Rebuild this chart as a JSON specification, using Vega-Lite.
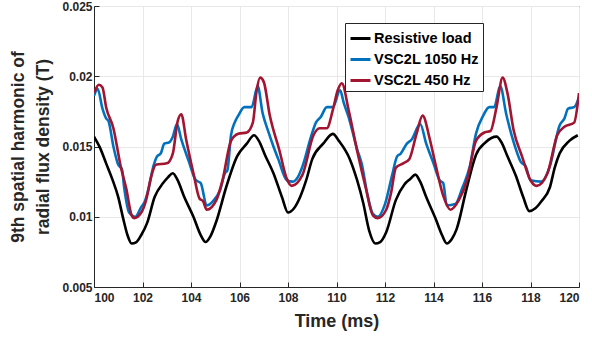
{
  "$schema": "https://vega.github.io/schema/vega-lite/v6.json",
  "width": 485,
  "height": 281,
  "autosize": {"type": "none"},
  "padding": {"left": 94, "top": 6, "right": 13, "bottom": 51},
  "background": "white",
  "config": {
    "font": "Liberation Sans",
    "view": {"stroke": "#262626", "strokeWidth": 1},
    "axis": {
      "domainColor": "#262626",
      "tickColor": "#262626",
      "gridColor": "#e8e8e8",
      "labelFont": "Liberation Sans",
      "labelFontWeight": "bold",
      "labelFontSize": 12,
      "labelColor": "#262626",
      "titleFont": "Liberation Sans",
      "titleFontWeight": "bold",
      "titleColor": "#262626",
      "tickSize": -5
    }
  },
  "data": {
    "values": [
      {"t": 100.0, "s": "Resistive load", "v": 0.0157},
      {"t": 100.25, "s": "Resistive load", "v": 0.0149},
      {"t": 100.5, "s": "Resistive load", "v": 0.0138},
      {"t": 100.75, "s": "Resistive load", "v": 0.0127},
      {"t": 101.0, "s": "Resistive load", "v": 0.0114},
      {"t": 101.2, "s": "Resistive load", "v": 0.0099},
      {"t": 101.38, "s": "Resistive load", "v": 0.0087},
      {"t": 101.55, "s": "Resistive load", "v": 0.0081},
      {"t": 101.75, "s": "Resistive load", "v": 0.0082},
      {"t": 101.95, "s": "Resistive load", "v": 0.0087},
      {"t": 102.2, "s": "Resistive load", "v": 0.0096},
      {"t": 102.5, "s": "Resistive load", "v": 0.0114},
      {"t": 102.85, "s": "Resistive load", "v": 0.0124},
      {"t": 103.05, "s": "Resistive load", "v": 0.0128},
      {"t": 103.25, "s": "Resistive load", "v": 0.0131},
      {"t": 103.45, "s": "Resistive load", "v": 0.0126},
      {"t": 103.7, "s": "Resistive load", "v": 0.0115},
      {"t": 104.1, "s": "Resistive load", "v": 0.0100},
      {"t": 104.4, "s": "Resistive load", "v": 0.0087},
      {"t": 104.6, "s": "Resistive load", "v": 0.0082},
      {"t": 104.8, "s": "Resistive load", "v": 0.0086},
      {"t": 105.05, "s": "Resistive load", "v": 0.0097},
      {"t": 105.45, "s": "Resistive load", "v": 0.0121},
      {"t": 105.9, "s": "Resistive load", "v": 0.0143},
      {"t": 106.3, "s": "Resistive load", "v": 0.0152},
      {"t": 106.6, "s": "Resistive load", "v": 0.0158},
      {"t": 106.8, "s": "Resistive load", "v": 0.0154},
      {"t": 107.05, "s": "Resistive load", "v": 0.0144},
      {"t": 107.4, "s": "Resistive load", "v": 0.0131},
      {"t": 107.75, "s": "Resistive load", "v": 0.0114},
      {"t": 108.0, "s": "Resistive load", "v": 0.0103},
      {"t": 108.25, "s": "Resistive load", "v": 0.0106},
      {"t": 108.5, "s": "Resistive load", "v": 0.0114},
      {"t": 108.75, "s": "Resistive load", "v": 0.0126},
      {"t": 109.0, "s": "Resistive load", "v": 0.0141},
      {"t": 109.45, "s": "Resistive load", "v": 0.0152},
      {"t": 109.85, "s": "Resistive load", "v": 0.0159},
      {"t": 110.1, "s": "Resistive load", "v": 0.0154},
      {"t": 110.55, "s": "Resistive load", "v": 0.0141},
      {"t": 110.85, "s": "Resistive load", "v": 0.0126},
      {"t": 111.1, "s": "Resistive load", "v": 0.0110},
      {"t": 111.35, "s": "Resistive load", "v": 0.0090},
      {"t": 111.6, "s": "Resistive load", "v": 0.0081},
      {"t": 111.8, "s": "Resistive load", "v": 0.0082},
      {"t": 112.05, "s": "Resistive load", "v": 0.0089},
      {"t": 112.45, "s": "Resistive load", "v": 0.0112},
      {"t": 112.8, "s": "Resistive load", "v": 0.0123},
      {"t": 113.05, "s": "Resistive load", "v": 0.0127},
      {"t": 113.25, "s": "Resistive load", "v": 0.0130},
      {"t": 113.45, "s": "Resistive load", "v": 0.0125},
      {"t": 113.7, "s": "Resistive load", "v": 0.0114},
      {"t": 114.1, "s": "Resistive load", "v": 0.0098},
      {"t": 114.35, "s": "Resistive load", "v": 0.0087},
      {"t": 114.55, "s": "Resistive load", "v": 0.0081},
      {"t": 114.75, "s": "Resistive load", "v": 0.0084},
      {"t": 114.95, "s": "Resistive load", "v": 0.0091},
      {"t": 115.35, "s": "Resistive load", "v": 0.0119},
      {"t": 115.75, "s": "Resistive load", "v": 0.0144},
      {"t": 116.15, "s": "Resistive load", "v": 0.0153},
      {"t": 116.6, "s": "Resistive load", "v": 0.0157},
      {"t": 116.8, "s": "Resistive load", "v": 0.0153},
      {"t": 117.05, "s": "Resistive load", "v": 0.0143},
      {"t": 117.4, "s": "Resistive load", "v": 0.0129},
      {"t": 117.7, "s": "Resistive load", "v": 0.0114},
      {"t": 117.95, "s": "Resistive load", "v": 0.0104},
      {"t": 118.2, "s": "Resistive load", "v": 0.0106},
      {"t": 118.45, "s": "Resistive load", "v": 0.0111},
      {"t": 118.8, "s": "Resistive load", "v": 0.0121},
      {"t": 119.0, "s": "Resistive load", "v": 0.0135},
      {"t": 119.2, "s": "Resistive load", "v": 0.0145},
      {"t": 119.6, "s": "Resistive load", "v": 0.0154},
      {"t": 119.95, "s": "Resistive load", "v": 0.0158},

      {"t": 100.0, "s": "VSC2L 1050 Hz", "v": 0.0186},
      {"t": 100.15, "s": "VSC2L 1050 Hz", "v": 0.0191},
      {"t": 100.35, "s": "VSC2L 1050 Hz", "v": 0.0177},
      {"t": 100.5, "s": "VSC2L 1050 Hz", "v": 0.0170},
      {"t": 100.6, "s": "VSC2L 1050 Hz", "v": 0.0168},
      {"t": 100.8, "s": "VSC2L 1050 Hz", "v": 0.0150},
      {"t": 101.0, "s": "VSC2L 1050 Hz", "v": 0.0137},
      {"t": 101.15, "s": "VSC2L 1050 Hz", "v": 0.0134},
      {"t": 101.25, "s": "VSC2L 1050 Hz", "v": 0.0120},
      {"t": 101.45, "s": "VSC2L 1050 Hz", "v": 0.0103},
      {"t": 101.7, "s": "VSC2L 1050 Hz", "v": 0.0100},
      {"t": 101.95, "s": "VSC2L 1050 Hz", "v": 0.0107},
      {"t": 102.1, "s": "VSC2L 1050 Hz", "v": 0.0111},
      {"t": 102.25, "s": "VSC2L 1050 Hz", "v": 0.0120},
      {"t": 102.45, "s": "VSC2L 1050 Hz", "v": 0.0136},
      {"t": 102.6, "s": "VSC2L 1050 Hz", "v": 0.0143},
      {"t": 102.75, "s": "VSC2L 1050 Hz", "v": 0.0145},
      {"t": 102.9, "s": "VSC2L 1050 Hz", "v": 0.0152},
      {"t": 103.1, "s": "VSC2L 1050 Hz", "v": 0.0153},
      {"t": 103.25, "s": "VSC2L 1050 Hz", "v": 0.0157},
      {"t": 103.42, "s": "VSC2L 1050 Hz", "v": 0.0166},
      {"t": 103.6, "s": "VSC2L 1050 Hz", "v": 0.0155},
      {"t": 103.9, "s": "VSC2L 1050 Hz", "v": 0.0140},
      {"t": 104.2, "s": "VSC2L 1050 Hz", "v": 0.0126},
      {"t": 104.4, "s": "VSC2L 1050 Hz", "v": 0.0124},
      {"t": 104.65, "s": "VSC2L 1050 Hz", "v": 0.0108},
      {"t": 104.9, "s": "VSC2L 1050 Hz", "v": 0.0111},
      {"t": 105.2, "s": "VSC2L 1050 Hz", "v": 0.0119},
      {"t": 105.4, "s": "VSC2L 1050 Hz", "v": 0.0131},
      {"t": 105.5, "s": "VSC2L 1050 Hz", "v": 0.0133},
      {"t": 105.65, "s": "VSC2L 1050 Hz", "v": 0.0158},
      {"t": 105.8, "s": "VSC2L 1050 Hz", "v": 0.0167},
      {"t": 105.95, "s": "VSC2L 1050 Hz", "v": 0.0172},
      {"t": 106.2, "s": "VSC2L 1050 Hz", "v": 0.0178},
      {"t": 106.5, "s": "VSC2L 1050 Hz", "v": 0.0178},
      {"t": 106.75, "s": "VSC2L 1050 Hz", "v": 0.0193},
      {"t": 106.95, "s": "VSC2L 1050 Hz", "v": 0.0174},
      {"t": 107.2, "s": "VSC2L 1050 Hz", "v": 0.0160},
      {"t": 107.4, "s": "VSC2L 1050 Hz", "v": 0.0150},
      {"t": 107.6, "s": "VSC2L 1050 Hz", "v": 0.0141},
      {"t": 107.95, "s": "VSC2L 1050 Hz", "v": 0.0126},
      {"t": 108.2, "s": "VSC2L 1050 Hz", "v": 0.0125},
      {"t": 108.4, "s": "VSC2L 1050 Hz", "v": 0.0128},
      {"t": 108.6, "s": "VSC2L 1050 Hz", "v": 0.0136},
      {"t": 108.95, "s": "VSC2L 1050 Hz", "v": 0.0157},
      {"t": 109.15, "s": "VSC2L 1050 Hz", "v": 0.0167},
      {"t": 109.35, "s": "VSC2L 1050 Hz", "v": 0.0171},
      {"t": 109.6, "s": "VSC2L 1050 Hz", "v": 0.0178},
      {"t": 109.85, "s": "VSC2L 1050 Hz", "v": 0.0178},
      {"t": 110.15, "s": "VSC2L 1050 Hz", "v": 0.0190},
      {"t": 110.3, "s": "VSC2L 1050 Hz", "v": 0.0181},
      {"t": 110.5, "s": "VSC2L 1050 Hz", "v": 0.0171},
      {"t": 110.85, "s": "VSC2L 1050 Hz", "v": 0.0148},
      {"t": 111.05, "s": "VSC2L 1050 Hz", "v": 0.0137},
      {"t": 111.25, "s": "VSC2L 1050 Hz", "v": 0.0118},
      {"t": 111.5, "s": "VSC2L 1050 Hz", "v": 0.0102},
      {"t": 111.7, "s": "VSC2L 1050 Hz", "v": 0.0100},
      {"t": 112.0, "s": "VSC2L 1050 Hz", "v": 0.0109},
      {"t": 112.3, "s": "VSC2L 1050 Hz", "v": 0.0130},
      {"t": 112.5, "s": "VSC2L 1050 Hz", "v": 0.0143},
      {"t": 112.65, "s": "VSC2L 1050 Hz", "v": 0.0145},
      {"t": 112.9, "s": "VSC2L 1050 Hz", "v": 0.0152},
      {"t": 113.1, "s": "VSC2L 1050 Hz", "v": 0.0155},
      {"t": 113.45, "s": "VSC2L 1050 Hz", "v": 0.0166},
      {"t": 113.7, "s": "VSC2L 1050 Hz", "v": 0.0152},
      {"t": 114.0, "s": "VSC2L 1050 Hz", "v": 0.0138},
      {"t": 114.25, "s": "VSC2L 1050 Hz", "v": 0.0126},
      {"t": 114.4, "s": "VSC2L 1050 Hz", "v": 0.0124},
      {"t": 114.55, "s": "VSC2L 1050 Hz", "v": 0.0108},
      {"t": 114.9, "s": "VSC2L 1050 Hz", "v": 0.0109},
      {"t": 115.2, "s": "VSC2L 1050 Hz", "v": 0.0121},
      {"t": 115.5, "s": "VSC2L 1050 Hz", "v": 0.0136},
      {"t": 115.75, "s": "VSC2L 1050 Hz", "v": 0.0159},
      {"t": 116.05, "s": "VSC2L 1050 Hz", "v": 0.0172},
      {"t": 116.3, "s": "VSC2L 1050 Hz", "v": 0.0178},
      {"t": 116.5, "s": "VSC2L 1050 Hz", "v": 0.0178},
      {"t": 116.75, "s": "VSC2L 1050 Hz", "v": 0.0193},
      {"t": 117.0, "s": "VSC2L 1050 Hz", "v": 0.0173},
      {"t": 117.4, "s": "VSC2L 1050 Hz", "v": 0.0148},
      {"t": 117.6, "s": "VSC2L 1050 Hz", "v": 0.0139},
      {"t": 117.8, "s": "VSC2L 1050 Hz", "v": 0.0136},
      {"t": 118.0, "s": "VSC2L 1050 Hz", "v": 0.0126},
      {"t": 118.45, "s": "VSC2L 1050 Hz", "v": 0.0125},
      {"t": 118.8, "s": "VSC2L 1050 Hz", "v": 0.0136},
      {"t": 119.2, "s": "VSC2L 1050 Hz", "v": 0.0165},
      {"t": 119.4, "s": "VSC2L 1050 Hz", "v": 0.0170},
      {"t": 119.55, "s": "VSC2L 1050 Hz", "v": 0.0177},
      {"t": 119.8, "s": "VSC2L 1050 Hz", "v": 0.0178},
      {"t": 120.0, "s": "VSC2L 1050 Hz", "v": 0.0185},

      {"t": 100.0, "s": "VSC2L 450 Hz", "v": 0.0188},
      {"t": 100.2, "s": "VSC2L 450 Hz", "v": 0.0194},
      {"t": 100.35, "s": "VSC2L 450 Hz", "v": 0.0192},
      {"t": 100.5, "s": "VSC2L 450 Hz", "v": 0.0178},
      {"t": 100.8, "s": "VSC2L 450 Hz", "v": 0.0163},
      {"t": 101.1, "s": "VSC2L 450 Hz", "v": 0.0136},
      {"t": 101.33, "s": "VSC2L 450 Hz", "v": 0.0120},
      {"t": 101.55, "s": "VSC2L 450 Hz", "v": 0.0101},
      {"t": 101.65, "s": "VSC2L 450 Hz", "v": 0.0099},
      {"t": 101.95, "s": "VSC2L 450 Hz", "v": 0.0103},
      {"t": 102.15, "s": "VSC2L 450 Hz", "v": 0.0112},
      {"t": 102.35, "s": "VSC2L 450 Hz", "v": 0.0128},
      {"t": 102.55, "s": "VSC2L 450 Hz", "v": 0.0137},
      {"t": 103.0, "s": "VSC2L 450 Hz", "v": 0.0138},
      {"t": 103.25, "s": "VSC2L 450 Hz", "v": 0.0145},
      {"t": 103.45, "s": "VSC2L 450 Hz", "v": 0.0168},
      {"t": 103.6, "s": "VSC2L 450 Hz", "v": 0.0173},
      {"t": 103.8, "s": "VSC2L 450 Hz", "v": 0.0155},
      {"t": 104.1, "s": "VSC2L 450 Hz", "v": 0.0131},
      {"t": 104.35, "s": "VSC2L 450 Hz", "v": 0.0113},
      {"t": 104.5, "s": "VSC2L 450 Hz", "v": 0.0111},
      {"t": 104.65, "s": "VSC2L 450 Hz", "v": 0.0105},
      {"t": 105.05, "s": "VSC2L 450 Hz", "v": 0.0112},
      {"t": 105.3, "s": "VSC2L 450 Hz", "v": 0.0126},
      {"t": 105.65, "s": "VSC2L 450 Hz", "v": 0.0154},
      {"t": 105.95, "s": "VSC2L 450 Hz", "v": 0.0159},
      {"t": 106.3, "s": "VSC2L 450 Hz", "v": 0.0160},
      {"t": 106.55, "s": "VSC2L 450 Hz", "v": 0.0167},
      {"t": 106.7, "s": "VSC2L 450 Hz", "v": 0.0189},
      {"t": 106.85, "s": "VSC2L 450 Hz", "v": 0.0199},
      {"t": 107.0, "s": "VSC2L 450 Hz", "v": 0.0196},
      {"t": 107.25, "s": "VSC2L 450 Hz", "v": 0.0172},
      {"t": 107.65, "s": "VSC2L 450 Hz", "v": 0.0147},
      {"t": 107.95, "s": "VSC2L 450 Hz", "v": 0.0127},
      {"t": 108.15, "s": "VSC2L 450 Hz", "v": 0.0122},
      {"t": 108.6, "s": "VSC2L 450 Hz", "v": 0.0130},
      {"t": 109.05, "s": "VSC2L 450 Hz", "v": 0.0158},
      {"t": 109.3, "s": "VSC2L 450 Hz", "v": 0.0163},
      {"t": 109.6, "s": "VSC2L 450 Hz", "v": 0.0163},
      {"t": 109.85, "s": "VSC2L 450 Hz", "v": 0.0176},
      {"t": 110.05, "s": "VSC2L 450 Hz", "v": 0.0190},
      {"t": 110.22, "s": "VSC2L 450 Hz", "v": 0.0195},
      {"t": 110.5, "s": "VSC2L 450 Hz", "v": 0.0176},
      {"t": 110.85, "s": "VSC2L 450 Hz", "v": 0.0147},
      {"t": 111.2, "s": "VSC2L 450 Hz", "v": 0.0121},
      {"t": 111.5, "s": "VSC2L 450 Hz", "v": 0.0101},
      {"t": 111.7, "s": "VSC2L 450 Hz", "v": 0.0099},
      {"t": 112.05, "s": "VSC2L 450 Hz", "v": 0.0105},
      {"t": 112.25, "s": "VSC2L 450 Hz", "v": 0.0117},
      {"t": 112.45, "s": "VSC2L 450 Hz", "v": 0.0135},
      {"t": 112.75, "s": "VSC2L 450 Hz", "v": 0.0138},
      {"t": 113.0, "s": "VSC2L 450 Hz", "v": 0.0141},
      {"t": 113.3, "s": "VSC2L 450 Hz", "v": 0.0159},
      {"t": 113.55, "s": "VSC2L 450 Hz", "v": 0.0172},
      {"t": 113.85, "s": "VSC2L 450 Hz", "v": 0.0155},
      {"t": 114.1, "s": "VSC2L 450 Hz", "v": 0.0136},
      {"t": 114.4, "s": "VSC2L 450 Hz", "v": 0.0115},
      {"t": 114.7, "s": "VSC2L 450 Hz", "v": 0.0105},
      {"t": 115.05, "s": "VSC2L 450 Hz", "v": 0.0112},
      {"t": 115.4, "s": "VSC2L 450 Hz", "v": 0.0127},
      {"t": 115.75, "s": "VSC2L 450 Hz", "v": 0.0154},
      {"t": 116.1, "s": "VSC2L 450 Hz", "v": 0.0160},
      {"t": 116.35, "s": "VSC2L 450 Hz", "v": 0.0161},
      {"t": 116.6, "s": "VSC2L 450 Hz", "v": 0.0178},
      {"t": 116.85, "s": "VSC2L 450 Hz", "v": 0.0199},
      {"t": 117.05, "s": "VSC2L 450 Hz", "v": 0.0188},
      {"t": 117.3, "s": "VSC2L 450 Hz", "v": 0.0162},
      {"t": 117.65, "s": "VSC2L 450 Hz", "v": 0.0143},
      {"t": 118.0, "s": "VSC2L 450 Hz", "v": 0.0126},
      {"t": 118.25, "s": "VSC2L 450 Hz", "v": 0.0122},
      {"t": 118.7, "s": "VSC2L 450 Hz", "v": 0.0131},
      {"t": 119.1, "s": "VSC2L 450 Hz", "v": 0.0158},
      {"t": 119.4, "s": "VSC2L 450 Hz", "v": 0.0164},
      {"t": 119.8, "s": "VSC2L 450 Hz", "v": 0.0167},
      {"t": 120.0, "s": "VSC2L 450 Hz", "v": 0.0188}
    ]
  },
  "mark": {"type": "line", "strokeWidth": 2.6, "clip": true, "interpolate": "monotone"},
  "encoding": {
    "x": {
      "field": "t",
      "type": "quantitative",
      "scale": {"domain": [100, 120], "nice": false},
      "axis": {
        "values": [100, 102, 104, 106, 108, 110, 112, 114, 116, 118, 120],
        "title": "Time (ms)",
        "titleFontSize": 18,
        "titlePadding": 9,
        "labelPadding": 10
      }
    },
    "y": {
      "field": "v",
      "type": "quantitative",
      "scale": {"domain": [0.005, 0.025], "nice": false, "zero": false},
      "axis": {
        "values": [0.005, 0.01, 0.015, 0.02, 0.025],
        "format": ".3~f",
        "title": ["9th spatial harmonic of", "radial flux density (T)"],
        "titleFontSize": 17.5,
        "titleLineHeight": 25,
        "titlePadding": 9,
        "labelPadding": 7
      }
    },
    "color": {
      "field": "s",
      "type": "nominal",
      "sort": ["Resistive load", "VSC2L 1050 Hz", "VSC2L 450 Hz"],
      "scale": {
        "domain": ["Resistive load", "VSC2L 1050 Hz", "VSC2L 450 Hz"],
        "range": ["#000000", "#0072BD", "#A2142F"]
      },
      "legend": {
        "title": null,
        "orient": "none",
        "legendX": 251,
        "legendY": 17,
        "symbolType": "stroke",
        "symbolSize": 400,
        "symbolStrokeWidth": 3,
        "labelFontSize": 14.5,
        "labelFontWeight": "bold",
        "labelColor": "#000000",
        "labelFont": "Liberation Sans",
        "strokeColor": "#262626",
        "fillColor": "white",
        "padding": 4,
        "rowPadding": 3,
        "labelOffset": 2
      }
    }
  }
}
